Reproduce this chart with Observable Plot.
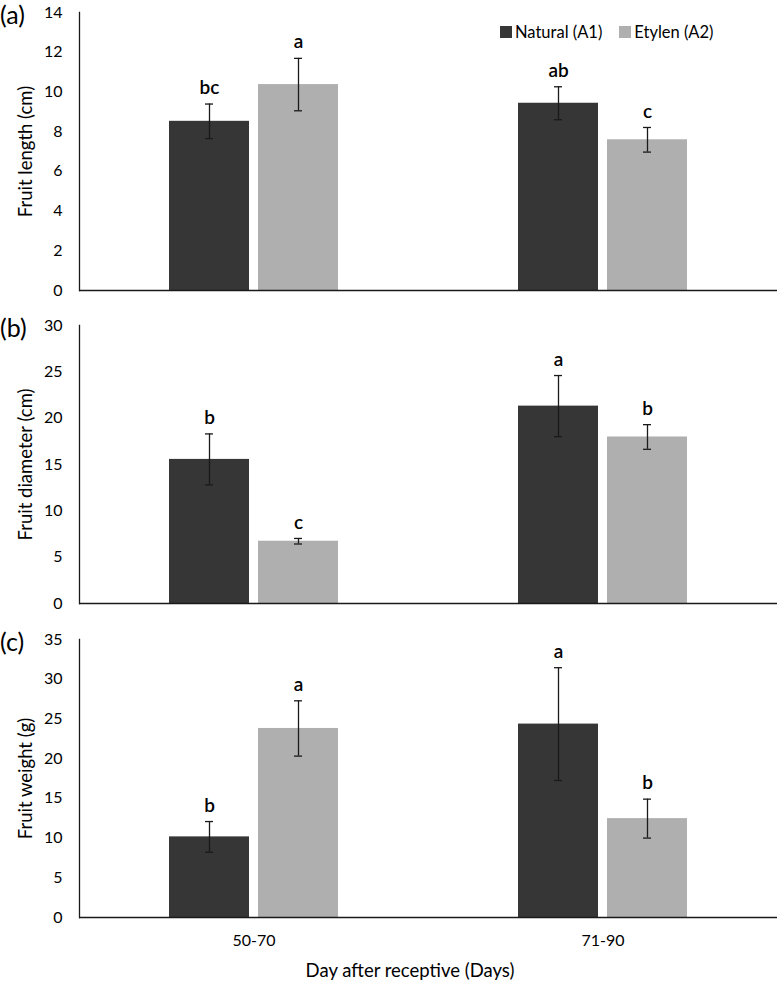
<!DOCTYPE html>
<html><head><meta charset="utf-8">
<script src="https://cdn.jsdelivr.net/npm/d3@7"></script>
<script src="https://cdn.jsdelivr.net/npm/@observablehq/plot@0.6"></script>
<style>
body{margin:0;background:#fff;font-family:Lato,"Open Sans",sans-serif;color:#000}
#wrap{position:relative;width:779px;height:983px;overflow:hidden}
#wrap svg{position:absolute;left:0}
.plab{position:absolute;left:0;font-size:25px;line-height:1}
.legend{position:absolute;top:22px;left:500px;font-size:16.5px;display:flex;align-items:center;white-space:nowrap}
.legend .sw{display:inline-block;width:12px;height:12px;margin-right:3px}
.xtitle{position:absolute;top:959px;left:210px;width:400px;text-align:center;font-size:18.5px}
</style></head><body><div id="wrap"></div>
<script>
const periods = ["50-70", "71-90"];
const treatments = ["Natural (A1)", "Etylen (A2)"];
const colors = ["#363636", "#afafaf"];

// (a) Fruit length (cm)
const lengthA1 = [8.52, 9.43];
const lengthA2 = [10.37, 7.59];
const lengthA1Err = [0.87, 0.83];
const lengthA2Err = [1.32, 0.62];
const lengthA1Letters = ["bc", "ab"];
const lengthA2Letters = ["a", "c"];

// (b) Fruit diameter (cm)
const diamA1 = [15.55, 21.3];
const diamA2 = [6.72, 17.97];
const diamA1Err = [2.75, 3.3];
const diamA2Err = [0.3, 1.33];
const diamA1Letters = ["b", "a"];
const diamA2Letters = ["c", "b"];

// (c) Fruit weight (g)
const weightA1 = [10.15, 24.35];
const weightA2 = [23.8, 12.45];
const weightA1Err = [1.93, 7.1];
const weightA2Err = [3.48, 2.45];
const weightA1Letters = ["b", "a"];
const weightA2Letters = ["a", "b"];

const lengthTicks = [0, 2, 4, 6, 8, 10, 12, 14];
const diamTicks = [0, 5, 10, 15, 20, 25, 30];
const weightTicks = [0, 5, 10, 15, 20, 25, 30, 35];

function buildRows(a1, a2, e1, e2, l1, l2) {
  const rows = [];
  periods.forEach((p, i) => {
    rows.push({period: p, trt: treatments[0], mean: a1[i], lo: a1[i] - e1[i], hi: a1[i] + e1[i], letter: l1[i]});
    rows.push({period: p, trt: treatments[1], mean: a2[i], lo: a2[i] - e2[i], hi: a2[i] + e2[i], letter: l2[i]});
  });
  return rows;
}

const FONT = "Lato, 'Open Sans', sans-serif";
const wrap = document.getElementById("wrap");

function panel({rows, ticks, yLabel, top, height, marginTop, marginBottom, showX, tag}) {
  const chart = Plot.plot({
    width: 779, height, marginLeft: 79, marginRight: 2, marginTop, marginBottom,
    style: {fontFamily: FONT, fontSize: "16px", color: "#000", background: "transparent", overflow: "visible"},
    fx: {domain: periods, padding: 0, axis: null},
    x: {domain: treatments, paddingInner: 0.1, paddingOuter: 1.01, axis: null},
    y: {domain: [ticks[0], ticks[ticks.length - 1]], axis: null},
    color: {domain: treatments, range: colors},
    marks: [
      Plot.axisY({ticks, tickSize: 0, tickPadding: 17, fontSize: 16, label: null}),
      Plot.axisY({ticks: [], tickSize: 0, label: yLabel, labelAnchor: "center", labelArrow: "none", labelOffset: 61, fontSize: 18.5}),
      Plot.frame({anchor: "left", stroke: "#1a1a1a", strokeWidth: 1.3, facet: "super"}),
      ...(showX ? [Plot.axisFx({anchor: "bottom", tickSize: 0, tickPadding: 17, fontSize: 16, label: null})] : []),
      Plot.barY(rows, {fx: "period", x: "trt", y: "mean", fill: "trt"}),
      Plot.ruleY([0], {stroke: "#1a1a1a", strokeWidth: 1.4}),
      Plot.ruleX(rows, {fx: "period", x: "trt", y1: "lo", y2: "hi", stroke: "#1a1a1a", strokeWidth: 1.3}),
      Plot.tickY(rows, {fx: "period", x: "trt", y: "lo", insetLeft: 36, insetRight: 36, stroke: "#1a1a1a", strokeWidth: 1.3}),
      Plot.tickY(rows, {fx: "period", x: "trt", y: "hi", insetLeft: 36, insetRight: 36, stroke: "#1a1a1a", strokeWidth: 1.3}),
      Plot.text(rows, {fx: "period", x: "trt", y: "hi", text: "letter", dy: -16, fontSize: 19, fontWeight: 600, fill: "#000"})
    ]
  });
  chart.style.top = top + "px";
  wrap.appendChild(chart);
  const lab = document.createElement("div");
  lab.className = "plab";
  lab.textContent = tag;
  lab.style.top = (top + marginTop - 10) + "px";
  wrap.appendChild(lab);
}

panel({rows: buildRows(lengthA1, lengthA2, lengthA1Err, lengthA2Err, lengthA1Letters, lengthA2Letters),
  ticks: lengthTicks, yLabel: "Fruit length (cm)", top: 0, height: 300, marginTop: 12, marginBottom: 10, showX: false, tag: "(a)"});
panel({rows: buildRows(diamA1, diamA2, diamA1Err, diamA2Err, diamA1Letters, diamA2Letters),
  ticks: diamTicks, yLabel: "Fruit diameter (cm)", top: 300, height: 313, marginTop: 25, marginBottom: 10, showX: false, tag: "(b)"});
panel({rows: buildRows(weightA1, weightA2, weightA1Err, weightA2Err, weightA1Letters, weightA2Letters),
  ticks: weightTicks, yLabel: "Fruit weight (g)", top: 613, height: 370, marginTop: 26, marginBottom: 66, showX: true, tag: "(c)"});

// legend
const leg = document.createElement("div");
leg.className = "legend";
treatments.forEach((t, i) => {
  const sw = document.createElement("span");
  sw.className = "sw";
  sw.style.background = colors[i];
  const tx = document.createElement("span");
  tx.textContent = t;
  tx.style.marginRight = i === 0 ? "17px" : "0";
  leg.appendChild(sw); leg.appendChild(tx);
});
wrap.appendChild(leg);

const xt = document.createElement("div");
xt.className = "xtitle";
xt.textContent = "Day after receptive (Days)";
wrap.appendChild(xt);
</script>
</body></html>
